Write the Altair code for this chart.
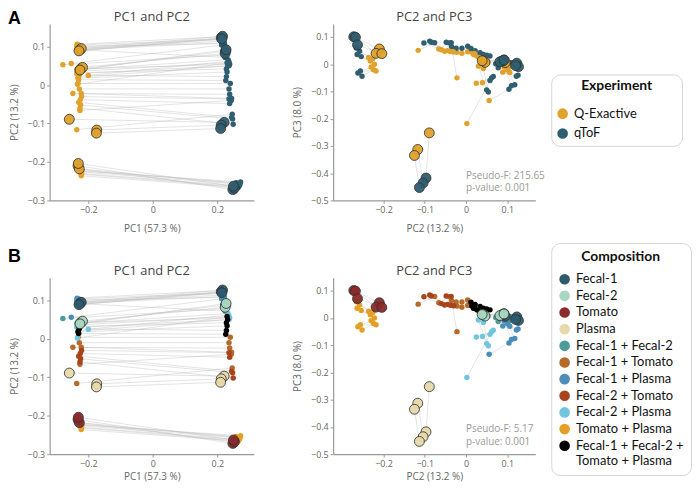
import altair as alt
import pandas as pd

# ---------------- data ----------------
PANEL_LABELS = ["A", "B"]
PANEL_TITLES = ["PC1 and PC2", "PC2 and PC3"]
EXPERIMENTS = ["Q-Exactive", "qToF"]
EXP_COLORS = ["#E0A22C", "#2E5E70"]

COMPOSITIONS = [
    "Fecal-1", "Fecal-2", "Tomato", "Plasma",
    "Fecal-1 + Fecal-2", "Fecal-1 + Tomato", "Fecal-1 + Plasma",
    "Fecal-2 + Tomato", "Fecal-2 + Plasma", "Tomato + Plasma",
    "Fecal-1 + Fecal-2 + Tomato + Plasma",
]
COMP_COLORS = [
    "#2C5B6E", "#A9D8C1", "#8B2A2A", "#E7DAAA",
    "#4E9C9A", "#B5692A", "#4A8DB8",
    "#A8441C", "#70C6DF", "#E3A024",
    "#000000",
]
PURE = ["Fecal-1", "Fecal-2", "Tomato", "Plasma"]
PAIR_COUNTS = [3, 3, 3, 3, 5, 6, 5, 5, 5, 7, 6]

QE_PC1 = [
    -0.226, -0.222, -0.229,
    -0.224, -0.218, -0.226,
    -0.232, -0.228, -0.231,
    -0.259, -0.174, -0.175,
    -0.279, -0.232, -0.236, -0.229, -0.234,
    -0.236, -0.226, -0.248, -0.228, -0.222, -0.232,
    -0.253, -0.232, -0.228, -0.235, -0.230,
    -0.226, -0.224, -0.230, -0.225, -0.221,
    -0.236, -0.234, -0.200, -0.236, -0.234,
    -0.222, -0.224, -0.221, -0.225, -0.223, -0.220, -0.226,
    -0.230, -0.228, -0.232, -0.229, -0.231, -0.227,
]
QE_PC2 = [
    0.092, 0.095, 0.089,
    0.042, 0.046, 0.039,
    -0.210, -0.218, -0.204,
    -0.089, -0.117, -0.125,
    0.053, 0.095, 0.100, 0.104, 0.092,
    -0.116, -0.066, -0.022, -0.010, -0.022, 0.004,
    0.056, 0.092, 0.100, 0.106, 0.089,
    -0.060, -0.052, -0.045, -0.038, -0.030,
    0.030, 0.042, 0.025, 0.040, 0.002,
    -0.236, -0.226, -0.232, -0.222, -0.230, -0.224, -0.218,
    0.014, 0.026, 0.018, 0.032, 0.020, 0.036,
]
QE_PC3 = [
    0.016, 0.006, 0.012,
    0.012, 0.007, 0.013,
    0.056, 0.040, 0.039,
    -0.252, -0.313, -0.335,
    0.008, -0.006, 0.000, -0.012, 0.003,
    0.051, 0.056, 0.044, 0.040, -0.050, 0.046,
    -0.133, -0.010, -0.020, -0.030, -0.029,
    0.053, 0.048, 0.050, 0.047, 0.045,
    -0.007, -0.016, -0.070, -0.068, -0.218,
    0.025, 0.020, 0.012, 0.000, -0.010, -0.020, -0.025,
    0.044, 0.030, 0.036, 0.024, 0.040, 0.020,
]
TOF_PC1 = [
    0.212, 0.216, 0.214,
    0.225, 0.224, 0.227,
    0.248, 0.253, 0.250,
    0.221, 0.212, 0.210,
    0.220, 0.218, 0.222, 0.219, 0.224,
    0.246, 0.243, 0.238, 0.236, 0.244, 0.240,
    0.213, 0.214, 0.212, 0.216, 0.215,
    0.249, 0.247, 0.244, 0.238, 0.236,
    0.236, 0.238, 0.235, 0.233, 0.236,
    0.265, 0.270, 0.262, 0.258, 0.268, 0.272, 0.260,
    0.226, 0.228, 0.230, 0.228, 0.232, 0.230,
]
TOF_PC2 = [
    0.123, 0.127, 0.120,
    0.088, 0.082, 0.092,
    -0.272, -0.268, -0.263,
    -0.097, -0.104, -0.113,
    0.078, 0.114, 0.108, 0.120, 0.072,
    -0.076, -0.040, -0.024, -0.010, -0.035, 0.004,
    0.104, 0.110, 0.118, 0.126, 0.122,
    -0.102, -0.088, -0.084, -0.048, -0.036,
    0.050, 0.054, 0.062, 0.066, 0.058,
    -0.266, -0.258, -0.264, -0.254, -0.262, -0.252, -0.256,
    0.012, 0.022, 0.034, 0.042, 0.050, 0.058,
]
TOF_PC3 = [
    0.004, -0.009, -0.005,
    0.012, 0.009, 0.015,
    0.101, 0.099, 0.071,
    -0.418, -0.436, -0.453,
    -0.013, -0.003, 0.006, 0.000, 0.002,
    0.079, 0.078, 0.059, 0.059, 0.064, 0.066,
    -0.092, -0.079, -0.075, -0.040, -0.044,
    0.078, 0.085, 0.081, 0.081, 0.079,
    -0.094, -0.102, -0.050, -0.045, -0.060,
    0.060, 0.048, 0.036, 0.028, -0.032, -0.044, -0.025,
    0.058, 0.050, 0.042, 0.036, 0.033, 0.030,
]
PSEUDO_F = ["215.65", "5.17"]
P_VALUE = ["0.001", "0.001"]

# ---------------- table ----------------
pair_comp = [c for c, n in zip(COMPOSITIONS, PAIR_COUNTS) for _ in range(n)]
rows = []
for i, comp in enumerate(pair_comp):
    kind = "pure" if comp in PURE else "mix"
    rows.append(dict(pair=i, comp=comp, exp=EXPERIMENTS[0], kind=kind,
                     pc1=QE_PC1[i], pc2=QE_PC2[i], pc3=QE_PC3[i]))
    rows.append(dict(pair=i, comp=comp, exp=EXPERIMENTS[1], kind=kind,
                     pc1=TOF_PC1[i], pc2=TOF_PC2[i], pc3=TOF_PC3[i]))
df = pd.DataFrame(rows)

FONT = "Open Sans"
LEG_FONT = "Lato"


def text_layer(txt, **kw):
    enc = {k: v for k, v in kw.items() if k in ("x", "y")}
    props = {k: v for k, v in kw.items() if k not in ("x", "y")}
    return alt.Chart(pd.DataFrame({"t": [txt]})).mark_text(**props).encode(
        text="t:N", **enc)


def panel(xf, yf, cfield, cdomain, crange, legend, xdom, ydom, xticks, yticks,
          xtitle, ytitle, title, width, xpad, extra):
    xenc = alt.X(f"{xf}:Q", scale=alt.Scale(domain=xdom, nice=False, zero=False),
                 axis=alt.Axis(values=xticks, format="~g", title=xtitle,
                               titlePadding=xpad))
    yenc = alt.Y(f"{yf}:Q", scale=alt.Scale(domain=ydom, nice=False, zero=False),
                 axis=alt.Axis(values=yticks, format="~g", title=ytitle,
                               titlePadding=8))
    col = alt.Color(f"{cfield}:N", scale=alt.Scale(domain=cdomain, range=crange),
                    legend=legend)
    base = alt.Chart(df)
    lines = base.mark_line(color="#b8b8b8", strokeWidth=0.7, opacity=0.55).encode(
        x=xenc, y=yenc, detail="pair:N")
    small = base.transform_filter(alt.datum.kind == "mix").mark_circle(
        size=30, opacity=1).encode(x=xenc, y=yenc, color=col)
    big = base.transform_filter(alt.datum.kind == "pure").mark_circle(
        size=100, opacity=0.95, stroke="#333333", strokeWidth=0.9).encode(
        x=xenc, y=yenc, color=col)
    ttl = text_layer(title, x=alt.value(width / 2), y=alt.value(-3), font=FONT,
                     fontSize=13, color="#444444", align="center",
                     baseline="alphabetic")
    return alt.layer(lines, small, big, ttl, *extra).properties(width=width, height=178)


def panel_label(idx, ypos):
    return text_layer(PANEL_LABELS[idx], x=alt.value(-42), y=alt.value(ypos),
                      font="Liberation Sans", fontSize=18, fontWeight="bold",
                      align="left", baseline="alphabetic", color="#000000")


def stats_text(idx):
    return text_layer(f"Pseudo-F: {PSEUDO_F[idx]}\np-value: {P_VALUE[idx]}",
                      x=alt.value(134), y=alt.value(148), lineBreak="\n",
                      align="left", baseline="top", font=FONT, fontSize=10,
                      lineHeight=13, color="#9a9a9a")


def make_legend(title, ly, pad, tpad, rowpad, expr):
    return alt.Legend(
        title=title, orient="none", legendX=220, legendY=ly, direction="vertical",
        titleAnchor="middle", titleFont=LEG_FONT, titleFontSize=14,
        titleFontWeight="bold", titleColor="#111111", titlePadding=tpad,
        labelFont=LEG_FONT, labelFontSize=13, labelColor="#111111", labelOffset=5,
        symbolType="circle", symbolSize=115, symbolStrokeWidth=0, symbolOpacity=1,
        rowPadding=rowpad, padding=pad, strokeColor="#d4d4d4", cornerRadius=9,
        fillColor="white", labelExpr=expr, labelLimit=200)


X1 = [-0.32, 0.313]
Y12 = [-0.3, 0.159]
X2 = [-0.322, 0.168]
Y23 = [-0.5, 0.148]
T1 = [-0.2, 0, 0.2]
T12 = [-0.3, -0.2, -0.1, 0, 0.1]
T2 = [-0.2, -0.1, 0, 0.1]
T23 = [-0.5, -0.4, -0.3, -0.2, -0.1, 0, 0.1]

legA = make_legend("Experiment", 51, 5, 14, 6,
                   "datum.label + '\u2800\u2800\u2800\u2800'")
legB = make_legend("Composition", -35, 7, 9, 2.8,
                   "datum.label == 'Fecal-1 + Fecal-2 + Tomato + Plasma' ? "
                   "['Fecal-1 + Fecal-2 +', 'Tomato + Plasma'] : datum.label")

a1 = panel("pc1", "pc2", "exp", EXPERIMENTS, EXP_COLORS, None, X1, Y12, T1, T12,
           "PC1 (57.3 %)", "PC2 (13.2 %)", PANEL_TITLES[0], 206, 9,
           [panel_label(0, 0)])
a2 = panel("pc2", "pc3", "exp", EXPERIMENTS, EXP_COLORS, legA, X2, Y23, T2, T23,
           "PC2 (13.2 %)", "PC3 (8.0 %)", PANEL_TITLES[1], 204, 9, [stats_text(0)])
b1 = panel("pc1", "pc2", "comp", COMPOSITIONS, COMP_COLORS, None, X1, Y12, T1, T12,
           "PC1 (57.3 %)", "PC2 (13.2 %)", PANEL_TITLES[0], 206, 4,
           [panel_label(1, -16)])
b2 = panel("pc2", "pc3", "comp", COMPOSITIONS, COMP_COLORS, legB, X2, Y23, T2, T23,
           "PC2 (13.2 %)", "PC3 (8.0 %)", PANEL_TITLES[1], 204, 4, [stats_text(1)])

chart = alt.concat(a1, a2, b1, b2, columns=2, spacing={"row": 78, "column": 80},
                   bounds="flush").resolve_scale(color="independent").properties(
    padding=0
).configure_view(stroke=None).configure_axis(
    grid=False, labelFont=FONT, titleFont=FONT, labelFontSize=9, titleFontSize=10,
    labelColor="#666666", titleColor="#666666", titleFontWeight="normal",
    domainColor="#999999", tickColor="#999999", tickSize=3, labelPadding=2,
    domainWidth=1.2,
)

chart.save("out.html", embed_options={"renderer": "svg", "actions": False})
